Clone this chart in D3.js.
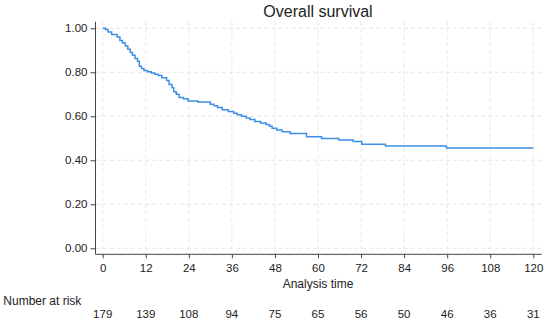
<!DOCTYPE html>
<html>
<head>
<meta charset="utf-8">
<script src="https://cdn.jsdelivr.net/npm/d3@7"></script>
<style>
  body { margin: 0; background: #fff; }
  text { font-family: Arial, "Liberation Sans", sans-serif; fill: #222; }
</style>
</head>
<body>
<div id="viz"></div>
<script>
// KM step points (months, survival)
var times = [0, 0.8, 1.5, 2.5, 4.0, 4.8, 5.5, 6.3, 7.0, 7.7, 8.3, 9.0, 9.7, 10.2, 10.8, 11.5,
	12.5, 13.5, 14.5, 15.5, 16.5, 17.8, 18.5, 19.3, 19.8, 20.5, 21.3, 22.5, 23.8, 26.5,
	30.0, 31.0, 32.0, 33.3, 35.0, 36.5, 37.5, 38.7, 40.0, 41.0, 42.4, 44.0, 45.5, 46.5,
	47.2, 48.5, 50.0, 52.2, 56.8, 61.0, 65.8, 69.8, 72.2, 78.8, 95.8, 120];
var survival = [1.0, 0.994, 0.983, 0.972, 0.96, 0.944, 0.933, 0.92, 0.905, 0.89, 0.877, 0.863, 0.85, 0.828, 0.817, 0.808,
	0.802, 0.797, 0.791, 0.785, 0.775, 0.763, 0.745, 0.73, 0.712, 0.70, 0.686, 0.68, 0.67, 0.665,
	0.655, 0.648, 0.64, 0.63, 0.622, 0.614, 0.607, 0.60, 0.592, 0.585, 0.576, 0.57, 0.563, 0.555,
	0.546, 0.538, 0.53, 0.522, 0.507, 0.499, 0.492, 0.485, 0.473, 0.465, 0.456, 0.456];

var xTicks = [0, 12, 24, 36, 48, 60, 72, 84, 96, 108, 120];
var yTicks = [0, 0.2, 0.4, 0.6, 0.8, 1.0];
var atRisk = [179, 139, 108, 94, 75, 65, 56, 50, 46, 36, 31];

var W = 550, H = 324;
var LINE_COLOR = "#3d8fe3";
var AXIS_COLOR = "#444";
var GRID_COLOR = "#e6e6e6";

var x = d3.scaleLinear().domain([0, 120]).range([102.7, 533.3]);
var y = d3.scaleLinear().domain([0, 1]).range([248.3, 28.3]);

var svg = d3.select("#viz").append("svg")
	.attr("width", W)
	.attr("height", H);

// grid
svg.append("g").selectAll("line")
	.data(yTicks)
	.join("line")
	.attr("x1", 96).attr("x2", 541.7)
	.attr("y1", function(d) { return y(d); })
	.attr("y2", function(d) { return y(d); })
	.attr("stroke", GRID_COLOR)
	.attr("stroke-dasharray", "4,3");

svg.append("g").selectAll("line")
	.data(xTicks)
	.join("line")
	.attr("x1", function(d) { return x(d); })
	.attr("x2", function(d) { return x(d); })
	.attr("y1", 21.7).attr("y2", 254)
	.attr("stroke", GRID_COLOR)
	.attr("stroke-dasharray", "4,3");

// axes
var yAxis = d3.axisLeft(y)
	.tickValues(yTicks)
	.tickSize(5)
	.tickPadding(3)
	.tickFormat(d3.format(".2f"));

var gy = svg.append("g")
	.attr("transform", "translate(95.5,0)")
	.call(yAxis);
gy.select(".domain").remove();
gy.append("line")
	.attr("x1", 0).attr("x2", 0)
	.attr("y1", 21.7).attr("y2", 254.3)
	.attr("stroke", AXIS_COLOR);

var xAxis = d3.axisBottom(x)
	.tickValues(xTicks)
	.tickSize(4)
	.tickPadding(6);

var gx = svg.append("g")
	.attr("transform", "translate(0,254.3)")
	.call(xAxis);
gx.select(".domain").remove();
gx.append("line")
	.attr("x1", 95.5).attr("x2", 541.7)
	.attr("y1", 0).attr("y2", 0)
	.attr("stroke", AXIS_COLOR);

svg.selectAll(".tick line").attr("stroke", AXIS_COLOR);
svg.selectAll(".tick text")
	.attr("font-size", 11.5)
	.attr("font-family", "Arial, 'Liberation Sans', sans-serif")
	.attr("fill", "#222");

// survival curve
var pts = times.map(function(t, i) { return [t, survival[i]]; });
var line = d3.line()
	.x(function(d) { return x(d[0]); })
	.y(function(d) { return y(d[1]); })
	.curve(d3.curveStepAfter);

svg.append("path")
	.datum(pts)
	.attr("d", line)
	.attr("fill", "none")
	.attr("stroke", LINE_COLOR)
	.attr("stroke-width", 1.5);

// titles
svg.append("text")
	.attr("x", 318).attr("y", 16.5)
	.attr("text-anchor", "middle")
	.attr("font-size", 16)
	.text("Overall survival");

svg.append("text")
	.attr("x", 318).attr("y", 288)
	.attr("text-anchor", "middle")
	.attr("font-size", 12)
	.text("Analysis time");

svg.append("text")
	.attr("x", 3.3).attr("y", 304.5)
	.attr("font-size", 12)
	.text("Number at risk");

svg.append("g").selectAll("text")
	.data(atRisk)
	.join("text")
	.attr("x", function(d, i) { return x(xTicks[i]); })
	.attr("y", 318.3)
	.attr("text-anchor", "middle")
	.attr("font-size", 11.5)
	.text(function(d) { return d; });
</script>
</body>
</html>
